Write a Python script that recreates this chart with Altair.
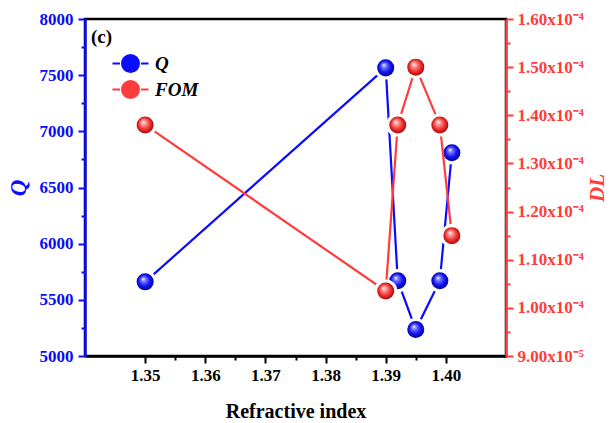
import altair as alt
import pandas as pd

# Refractive index of the analyte
refr_index = [1.35, 1.39, 1.392, 1.395, 1.399, 1.401]
# Quality factor (left axis)
q_values = [5660, 7565, 5670, 5235, 5670, 6810]
# Detection limit (right axis)
dl_values = [1.38e-4, 1.035e-4, 1.38e-4, 1.50e-4, 1.38e-4, 1.15e-4]

series_names = ["Q", "FOM"]
series_colors = ["#0b0bff", "#ff3b3b"]

x_ticks = [1.35, 1.355, 1.36, 1.365, 1.37, 1.375, 1.38, 1.385, 1.39, 1.395, 1.40]
q_ticks = [5000, 5250, 5500, 5750, 6000, 6250, 6500, 6750, 7000, 7250, 7500, 7750, 8000]
dl_ticks = [9.0e-5, 9.5e-5, 1.0e-4, 1.05e-4, 1.1e-4, 1.15e-4, 1.2e-4, 1.25e-4,
            1.3e-4, 1.35e-4, 1.4e-4, 1.45e-4, 1.5e-4, 1.55e-4, 1.6e-4]

FONT = "Liberation Serif"
BLUE, RED = series_colors

df_q = pd.DataFrame({"ri": refr_index, "val": q_values, "series": series_names[0]})
df_dl = pd.DataFrame({"ri": refr_index, "val": dl_values, "series": series_names[1]})


def sphere(light, base, dark):
    return alt.RadialGradient(
        gradient="radial",
        x1=0.38, y1=0.32, r1=0.0,
        x2=0.5, y2=0.5, r2=0.55,
        stops=[
            alt.GradientStop(offset=0.0, color="#ffffff"),
            alt.GradientStop(offset=0.22, color=light),
            alt.GradientStop(offset=0.6, color=base),
            alt.GradientStop(offset=1.0, color=dark),
        ],
    )


x_enc = alt.X(
    "ri:Q",
    scale=alt.Scale(domain=[1.34, 1.41], nice=False, zero=False),
    axis=alt.Axis(
        values=x_ticks,
        title="Refractive index",
        labelExpr="round(datum.value*1000) % 10 != 0 ? '' : format(datum.value, '.2f')",
        tickSize={"condition": {"test": "round(datum.value*1000) % 10 != 0", "value": 4}, "value": 7},
        tickColor="black", domainColor="black", labelColor="black", titleColor="black",
        labelFontSize=17, titleFontSize=20, labelPadding=4, titlePadding=18,
        grid=False,
    ),
)

y_q = alt.Y(
    "val:Q",
    scale=alt.Scale(domain=[5000, 8000], nice=False, zero=False),
    axis=alt.Axis(
        orient="left", values=q_ticks, title="Q",
        labelExpr="datum.value % 500 != 0 ? '' : format(datum.value, 'd')",
        tickSize={"condition": {"test": "datum.value % 500 != 0", "value": 4}, "value": 7},
        tickColor=BLUE, domainColor=BLUE, labelColor=BLUE, titleColor=BLUE,
        labelFontSize=17, titleFontSize=23, titleFontStyle="italic",
        titleAngle=270, labelPadding=5, titlePadding=9, grid=False,
    ),
)

y_dl = alt.Y(
    "val:Q",
    scale=alt.Scale(domain=[9.0e-5, 1.6e-4], nice=False, zero=False),
    axis=alt.Axis(
        orient="right", values=dl_ticks, title="DL",
        labelExpr=(
            "round(datum.value*1e6) % 10 != 0 ? '' : "
            "(datum.value >= 9.9e-5 ? format(datum.value*1e4, '.2f') + 'x10\u207b\u2074' "
            ": format(datum.value*1e5, '.2f') + 'x10\u207b\u2075')"
        ),
        tickSize={"condition": {"test": "round(datum.value*1e6) % 10 != 0", "value": 4}, "value": 7},
        tickColor=RED, domainColor=RED, labelColor=RED, titleColor=RED,
        labelFontSize=17, titleFontSize=21, titleFontStyle="italic",
        titleAngle=270, labelPadding=4, titlePadding=24, grid=False,
    ),
)

# legend symbol: short dash, ball, short dash (drawn wider than its nominal box)
legend_symbol = (
    "M-1.44,0H-0.84M0.84,0H1.44"
    "M-0.68,0A0.68,0.68,0,1,1,0.68,0A0.68,0.68,0,1,1,-0.68,0Z"
)
legend = alt.Legend(
    title=None, orient="none", legendX=32, legendY=31,
    symbolType=legend_symbol, symbolSize=625, symbolStrokeWidth=2,
    labelFont=FONT, labelFontSize=19, labelFontStyle="italic",
    labelFontWeight="bold", labelColor="black", labelOffset=11, rowPadding=0,
)
color_scale = alt.Scale(domain=series_names, range=series_colors)


def series_layer(df, y_enc, color, ball):
    base = alt.Chart(df).encode(x=x_enc, y=y_enc)
    line = base.mark_line(color=color, strokeWidth=2.2)
    key = base.mark_point(filled=True, size=30, opacity=1).encode(
        fill=alt.Fill("series:N", scale=color_scale, legend=legend),
        stroke=alt.Stroke("series:N", scale=color_scale, legend=legend),
    )
    halo = base.mark_point(shape="circle", filled=True, size=540, fill="white",
                           strokeWidth=0, opacity=1)
    balls = base.mark_point(shape="circle", filled=True, size=290, fill=ball,
                            strokeWidth=0, opacity=1)
    return alt.layer(line, key, halo, balls)


q_layer = series_layer(df_q, y_q, BLUE, sphere("#8080ff", "#1414f4", "#00008a"))
dl_layer = series_layer(df_dl, y_dl, RED, sphere("#ffa0a0", "#f23434", "#a00000"))

panel_tag = alt.Chart(pd.DataFrame({"tag": ["(c)"]})).mark_text(
    font=FONT, fontSize=19, fontWeight="bold", align="left", baseline="middle", color="black"
).encode(x=alt.value(6), y=alt.value(18), text="tag:N")

chart = (
    alt.layer(q_layer, dl_layer, panel_tag)
    .resolve_scale(y="independent")
    .properties(
        width=421, height=337,
        autosize=alt.AutoSizeParams(type="none"),
        padding={"left": 85, "top": 19, "right": 104, "bottom": 67},
        background="white",
    )
    .configure_view(stroke="black", strokeWidth=2.5)
    .configure_axis(
        labelFont=FONT, titleFont=FONT, labelFontWeight="bold", titleFontWeight="bold",
        domainWidth=2.5, tickWidth=2, tickCap="butt",
    )
)

chart.save("out.html", embed_options={"renderer": "svg", "actions": False})
